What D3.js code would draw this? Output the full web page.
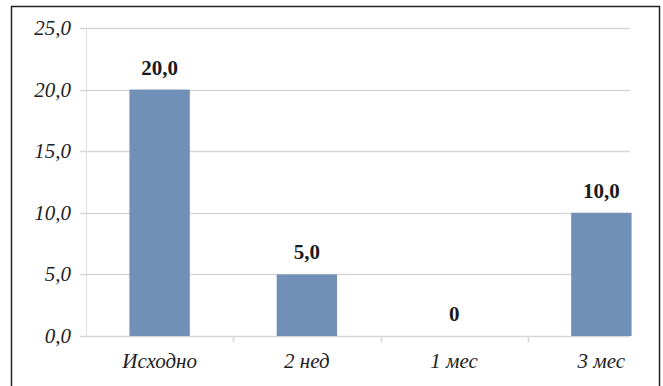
<!DOCTYPE html>
<html>
<head>
<meta charset="utf-8">
<script src="https://cdn.jsdelivr.net/npm/d3@7"></script>
<style>
  html, body { margin: 0; padding: 0; background: #fff; }
  svg { display: block; }
</style>
</head>
<body>
<svg id="chart" width="663" height="386" font-family="'Liberation Serif', 'Times New Roman', serif"></svg>
<script>
// Data
const categories = ["Исходно", "2 нед", "1 мес", "3 мес"];
const values = [20.0, 5.0, 0, 10.0];
const valueLabels = ["20,0", "5,0", "0", "10,0"];
const yTicks = [0, 5, 10, 15, 20, 25];
const yTickLabels = ["0,0", "5,0", "10,0", "15,0", "20,0", "25,0"];

const svg = d3.select("#chart");
const serif = "Liberation Serif";

// frame around the chart
svg.append("rect")
  .attr("x", 11.5).attr("y", 6.5)
  .attr("width", 648).attr("height", 400)
  .attr("fill", "none").attr("stroke", "#222").attr("stroke-width", 1.5);

const plotLeft = 86, plotRight = 630, bandRight = 675;
const y = d3.scaleLinear().domain([0, 25]).range([336, 28]);
const x = d3.scaleBand().domain(categories).range([plotLeft, bandRight]).padding(0);

// horizontal gridlines
svg.append("g").selectAll("line")
  .data(yTicks)
  .join("line")
  .attr("x1", plotLeft - 6).attr("x2", plotRight)
  .attr("y1", d => Math.round(y(d)) + 0.5).attr("y2", d => Math.round(y(d)) + 0.5)
  .attr("stroke", "#d9d6d6").attr("stroke-width", 1.5);

// vertical axis line
svg.append("line")
  .attr("x1", plotLeft + 0.5).attr("x2", plotLeft + 0.5)
  .attr("y1", y(25)).attr("y2", y(0))
  .attr("stroke", "#e2dede").attr("stroke-width", 1);

// category boundary ticks below the axis
svg.append("g").selectAll("line")
  .data(categories.slice(1))
  .join("line")
  .attr("x1", d => Math.round(x(d)) + 0.5).attr("x2", d => Math.round(x(d)) + 0.5)
  .attr("y1", y(0)).attr("y2", y(0) + 6)
  .attr("stroke", "#d9d6d6").attr("stroke-width", 1.5);

// y tick labels
svg.append("g").selectAll("text")
  .data(yTicks)
  .join("text")
  .attr("x", 71).attr("y", d => y(d) + 7)
  .attr("text-anchor", "end")
  .attr("font-family", serif)
  .attr("font-style", "italic")
  .attr("font-size", 21)
  .attr("fill", "#222")
  .text((d, i) => yTickLabels[i]);

// bars
const barFrac = 0.41;
const bw = x.bandwidth() * barFrac;
svg.append("g").selectAll("rect")
  .data(values)
  .join("rect")
  .attr("x", (d, i) => x(categories[i]) + (x.bandwidth() - bw) / 2)
  .attr("y", d => y(d))
  .attr("width", bw)
  .attr("height", d => y(0) - y(d))
  .attr("fill", "#7090b7");

// value labels
svg.append("g").selectAll("text")
  .data(values)
  .join("text")
  .attr("x", (d, i) => x(categories[i]) + x.bandwidth() / 2)
  .attr("y", d => y(d) - 15)
  .attr("text-anchor", "middle")
  .attr("font-family", serif)
  .attr("font-weight", "bold")
  .attr("font-size", 21)
  .attr("fill", "#1a1a1a")
  .text((d, i) => valueLabels[i]);

// category labels
svg.append("g").selectAll("text")
  .data(categories)
  .join("text")
  .attr("x", d => x(d) + x.bandwidth() / 2)
  .attr("y", 368)
  .attr("text-anchor", "middle")
  .attr("font-family", serif)
  .attr("font-style", "italic")
  .attr("font-size", 21)
  .attr("fill", "#222")
  .text(d => d);
</script>
</body>
</html>
